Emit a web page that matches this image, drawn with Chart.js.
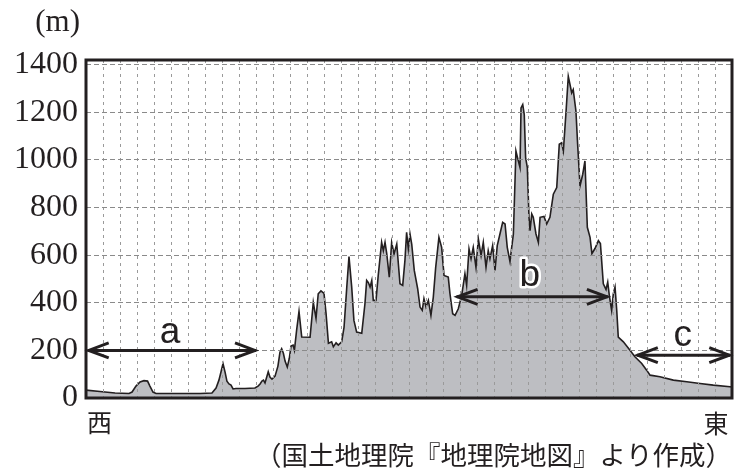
<!DOCTYPE html>
<html>
<head>
<meta charset="utf-8">
<script src="https://cdn.jsdelivr.net/npm/chart.js@4"></script>
<style>
html,body{margin:0;padding:0;background:#fff;}
#wrap{position:relative;width:734px;height:475px;}
</style>
</head>
<body>
<div id="wrap"><canvas id="c" width="734" height="475"></canvas></div>
<script>
// ---- data (distance along profile, grid units west -> east ; elevation in m) ----
const distance = [0,0.82,1.71,2.53,2.71,2.94,3.18,3.41,3.62,3.76,
3.94,4.12,5.53,6.71,7.41,7.65,7.82,7.94,8.06,8.18,
8.29,8.41,8.53,8.65,8.82,9.35,9.94,10.12,10.24,10.35,
10.44,10.53,10.72,10.82,10.94,11.12,11.29,11.41,11.51,11.61,
11.71,11.84,11.96,12.06,12.18,12.26,12.39,12.53,12.69,13.18,
13.37,13.53,13.66,13.82,14.0,14.12,14.26,14.45,14.55,14.71,
14.84,15.04,15.18,15.34,15.47,15.63,15.76,15.92,16.22,16.41,
16.51,16.61,16.71,16.81,16.9,17.06,17.19,17.39,17.49,17.59,
17.69,17.84,17.98,18.12,18.28,18.47,18.63,18.76,18.86,18.96,
19.06,19.16,19.31,19.51,19.65,19.78,19.88,20.0,20.14,20.29,
20.43,20.57,20.76,20.92,21.06,21.31,21.41,21.57,21.71,21.9,
22.1,22.29,22.39,22.53,22.65,22.78,22.94,23.08,23.24,23.37,
23.53,23.66,23.76,23.92,24.06,24.19,24.35,24.51,24.65,24.78,
24.94,25.04,25.14,25.29,25.43,25.53,25.59,25.69,25.78,25.86,
25.96,26.06,26.12,26.22,26.31,26.47,26.61,26.71,26.94,27.1,
27.29,27.49,27.69,27.84,27.98,28.08,28.24,28.37,28.47,28.57,
28.66,28.82,28.92,29.06,29.22,29.35,29.49,29.65,29.76,29.94,
30.14,30.26,30.43,30.59,30.69,30.79,30.92,31.02,31.12,31.22,
31.31,31.61,32.0,32.29,32.69,32.98,33.18,33.76,34.55,35.34,
36.12,36.9,37.88,38];

const elevation = [33,27,21,19,25,50,67,73,71,50,
25,19,19,19,21,42,75,109,144,109,
71,59,54,38,40,40,42,50,59,71,
75,63,110,88,79,92,134,192,207,188,
155,130,167,218,222,201,285,364,256,255,
402,335,438,450,439,356,230,236,215,232,
222,236,298,466,594,466,326,277,272,397,
494,485,466,494,410,410,515,654,619,654,
607,508,654,605,647,480,473,577,696,626,
689,647,536,459,382,368,417,382,410,347,
424,549,675,633,515,508,438,354,347,375,
431,522,473,626,585,633,549,668,598,654,
549,619,585,640,536,640,689,738,731,633,
573,633,689,1038,996,968,1219,1233,1191,1010,
968,759,703,773,759,689,654,759,763,731,
759,856,884,1066,1072,1038,1205,1351,1317,1282,
1296,1205,1066,891,940,996,717,675,607,628,
661,649,480,456,487,427,368,438,466,368,
256,236,201,173,145,117,96,89,75,68,
61,54,47,46];

const yTickValues = [0,200,400,600,800,1000,1200,1400];
const unitLabel = '(m)';
const westLabel = '西';
const eastLabel = '東';
const sourceNote = '（国土地理院『地理院地図』より作成）';

// section arrows: label, start, end (distance) and elevation level
const spanLabels = ['a','b','c'];
const spanFrom = [0.1, 21.8, 32.4];
const spanTo = [10.0, 30.7, 37.9];
const spanLevel = [200, 425, 180];

// ---------------------------------------------------------------
const points = distance.map((d,i)=>({x:d, y:elevation[i]}));

const overlay = {
  id:'overlay',
  afterDraw(chart){
    const {ctx, chartArea:a, scales:{x,y}} = chart;
    const ink = '#231f20';
    ctx.save();
    // frame
    ctx.strokeStyle = ink; ctx.lineWidth = 3;
    ctx.strokeRect(a.left, a.top, a.right-a.left, a.bottom-a.top);
    // arrows
    const labelPos = [[4.94,272],[26.1,515],[35.1,262]];
    ctx.lineWidth = 3; ctx.lineCap='butt'; ctx.lineJoin='miter';
    spanLabels.forEach((lab,i)=>{
      const x1 = x.getPixelForValue(spanFrom[i]);
      const x2 = x.getPixelForValue(spanTo[i]);
      const yy = y.getPixelForValue(spanLevel[i]);
      ctx.beginPath();
      ctx.moveTo(x1,yy); ctx.lineTo(x2,yy); ctx.stroke();
      const hl = 21, hw = 7.5;
      ctx.beginPath();
      ctx.moveTo(x1+hl, yy-hw); ctx.lineTo(x1+1, yy); ctx.lineTo(x1+hl, yy+hw);
      ctx.moveTo(x2-hl, yy-hw); ctx.lineTo(x2-1, yy); ctx.lineTo(x2-hl, yy+hw);
      ctx.stroke();
      const lx = x.getPixelForValue(labelPos[i][0]);
      const ly = y.getPixelForValue(labelPos[i][1]);
      ctx.font = '37px "Liberation Sans", Arial, sans-serif';
      ctx.textAlign='center'; ctx.textBaseline='middle';
      if (lab==='b'){
        ctx.strokeStyle='#ffffff'; ctx.lineWidth=5; ctx.lineJoin='round';
        ctx.strokeText(lab, lx, ly);
        ctx.strokeStyle=ink; ctx.lineWidth=3; ctx.lineJoin='miter';
      }
      ctx.fillStyle = ink;
      ctx.fillText(lab, lx, ly);
    });
    // texts
    ctx.fillStyle = ink;
    ctx.font = '31px "Liberation Serif", serif';
    ctx.textAlign='right'; ctx.textBaseline='alphabetic';
    ctx.fillText(unitLabel, 80, 31);
    ctx.font = '25px "Noto Sans CJK JP", sans-serif';
    ctx.textAlign='center'; ctx.textBaseline='middle';
    ctx.fillText(westLabel, 99.5, 422);
    ctx.fillText(eastLabel, 716, 423);
    ctx.font = '26.5px "Noto Sans CJK JP", sans-serif';
    ctx.textAlign='right';
    ctx.fillText(sourceNote, 732, 455);
    ctx.restore();
  }
};

new Chart(document.getElementById('c'), {
  type:'line',
  data:{datasets:[{
    data: points,
    borderColor:'#231f20',
    borderWidth:1.6,
    backgroundColor:'#bdbec2',
    fill:'origin',
    pointRadius:0,
    tension:0
  }]},
  options:{
    responsive:false,
    animation:false,
    layout:{padding:{left:0,right:2,top:60,bottom:77}},
    plugins:{legend:{display:false},tooltip:{enabled:false}},
    scales:{
      x:{
        type:'linear', min:0, max:38,
        ticks:{display:false, stepSize:1},
        grid:{color:'#9a9a9a', lineWidth:1, drawTicks:false, z:1},
        border:{display:false, dash:[3,4]},
        afterFit(s){ s.height = 0; }
      },
      y:{
        min:0, max:1420,
        afterBuildTicks(s){ s.ticks = yTickValues.map(v=>({value:v})); },
        ticks:{includeBounds:false, padding:8, color:'#231f20',
               callback:(v)=>String(v),
               font:{family:'"Liberation Serif", serif', size:32}},
        grid:{color:'#8a8a8a', lineWidth:1, drawTicks:false, z:1},
        border:{display:false, dash:[5,3]},
        afterFit(s){ s.width = 86; }
      }
    }
  },
  plugins:[overlay]
});
</script>
</body>
</html>
